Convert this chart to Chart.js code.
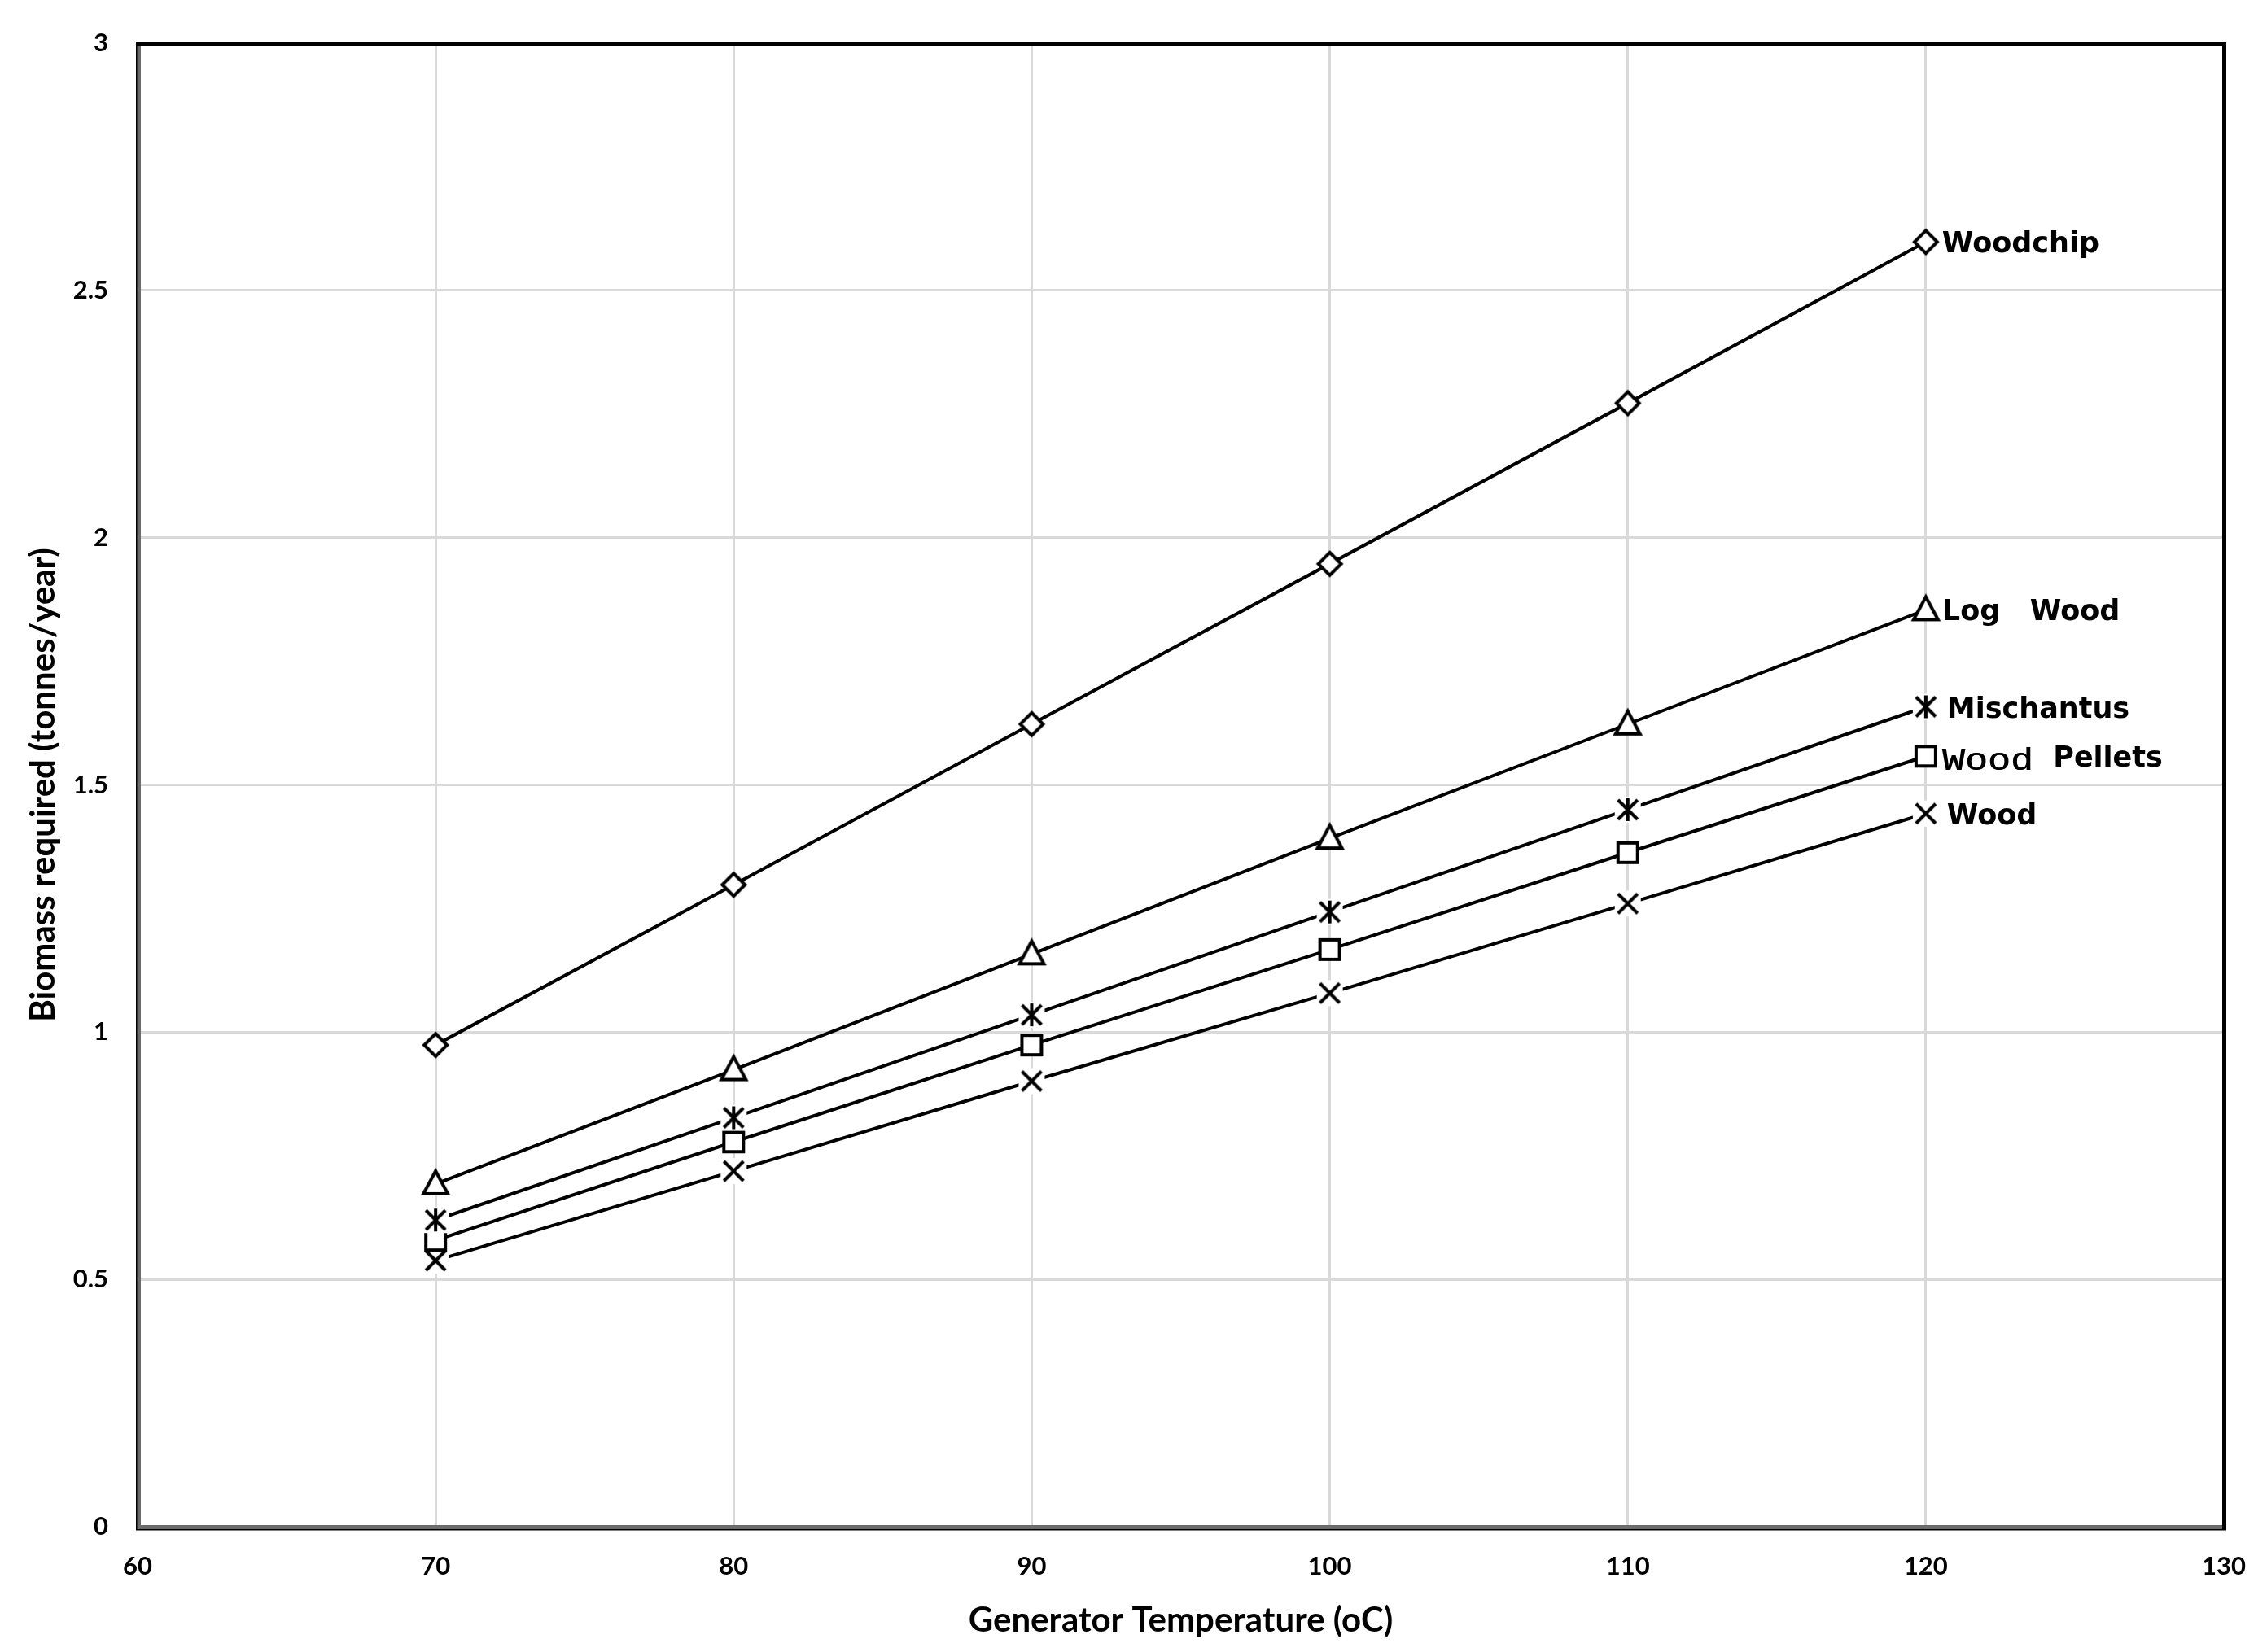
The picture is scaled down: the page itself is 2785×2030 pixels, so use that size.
<!DOCTYPE html>
<html>
<head>
<meta charset="utf-8">
<script src="https://cdn.jsdelivr.net/npm/chart.js@4.4.1/dist/chart.umd.min.js"></script>
<style>
  html, body { margin: 0; padding: 0; background: #fff; }
  #wrap { width: 2785px; height: 2030px; position: relative; }
</style>
</head>
<body>
<div id="wrap"><canvas id="c" width="2785" height="2030"></canvas></div>
<script>
// ---- data ----
const temperatures = [70, 80, 90, 100, 110, 120];
const woodchip    = [0.974, 1.298, 1.623, 1.947, 2.272, 2.598];
const logWood     = [0.693, 0.924, 1.158, 1.392, 1.623, 1.854];
const mischantus  = [0.620, 0.827, 1.035, 1.243, 1.450, 1.658];
const woodPellets = [0.579, 0.778, 0.974, 1.167, 1.363, 1.558];
const wood        = [0.538, 0.719, 0.901, 1.079, 1.260, 1.442];
const seriesNames = ['Woodchip', 'Log   Wood', 'Mischantus', 'Wood  Pellets', 'Wood'];
const xTickLabels = [60, 70, 80, 90, 100, 110, 120, 130];
const yTickLabels = [0, 0.5, 1, 1.5, 2, 2.5, 3];
const xTitle = 'Generator Temperature (oC)';
const yTitle = 'Biomass required (tonnes/year)';

// ---- marker images ----
function marker(kind) {
  const s = 48;
  const c = document.createElement('canvas');
  c.width = s; c.height = s;
  const g = c.getContext('2d');
  g.translate(s / 2, s / 2);
  g.lineWidth = 4;
  g.strokeStyle = '#000';
  g.fillStyle = '#fff';
  g.lineJoin = 'miter';
  if (kind === 'diamond') {
    const r = 14;
    g.beginPath(); g.moveTo(0, -r); g.lineTo(r, 0); g.lineTo(0, r); g.lineTo(-r, 0); g.closePath();
    g.fill(); g.stroke();
  } else if (kind === 'triangle') {
    g.beginPath(); g.moveTo(0, -16); g.lineTo(15, 12); g.lineTo(-15, 12); g.closePath();
    g.fill(); g.stroke();
  } else if (kind === 'square') {
    g.beginPath(); g.rect(-12, -12, 24, 24);
    g.fill(); g.stroke();
  } else if (kind === 'x' || kind === 'asterisk') {
    g.fillRect(-16, -16, 32, 32);
    const r = 12;
    g.beginPath();
    g.moveTo(-r, -r); g.lineTo(r, r);
    g.moveTo(r, -r); g.lineTo(-r, r);
    if (kind === 'asterisk') { g.moveTo(0, -14); g.lineTo(0, 14); }
    g.stroke();
  }
  return c;
}
const markerKinds = ['diamond', 'triangle', 'asterisk', 'square', 'x'];
const seriesValues = [woodchip, logWood, mischantus, woodPellets, wood];

const datasets = seriesValues.map((vals, i) => ({
  label: seriesNames[i],
  data: temperatures.map((t, j) => ({ x: t, y: vals[j] })),
  borderColor: '#000',
  borderWidth: 4,
  pointStyle: marker(markerKinds[i]),
  pointRadius: 14,
  pointHoverRadius: 14,
  fill: false,
  tension: 0
}));

// ---- plugins ----
const frame = {
  id: 'frame',
  afterDatasetsDraw(chart) {
    const { ctx, chartArea: a } = chart;
    ctx.save();
    ctx.fillStyle = '#6b6b6b';
    ctx.fillRect(a.left - 1, a.top - 2, 5, a.bottom - a.top + 4);
    ctx.fillRect(a.left - 1, a.bottom - 2, a.right - a.left + 3, 5);
    ctx.fillStyle = '#000';
    ctx.fillRect(a.left - 2, a.top - 2, 1.5, a.bottom - a.top + 6);
    ctx.fillRect(a.left - 2, a.bottom + 3, a.right - a.left + 5, 1.5);
    ctx.fillRect(a.left - 2, a.top - 2, a.right - a.left + 5, 5);
    ctx.fillRect(a.right - 2, a.top - 2, 5, a.bottom - a.top + 6);
    ctx.restore();
  }
};

const labelFont = 'bold 35px "DejaVu Sans"';
const endLabels = {
  id: 'endLabels',
  afterDraw(chart) {
    const { ctx } = chart;
    ctx.save();
    ctx.fillStyle = '#000';
    ctx.textBaseline = 'middle';
    ctx.textAlign = 'left';
    chart.data.datasets.forEach((ds, i) => {
      const meta = chart.getDatasetMeta(i);
      const pt = meta.data[meta.data.length - 1];
      let x = pt.x + 20;
      const y = pt.y + 4;
      const label = ds.label;
      if (label.startsWith('Wood  ')) {
        const first = 'Wood';
        ctx.font = '38px "Liberation Mono"';
        const w = ctx.measureText(first).width;
        const sx = 112 / w;
        ctx.save();
        ctx.translate(x, y + 3);
        ctx.scale(sx, 1);
        ctx.fillText(first, 0, 0);
        ctx.fillText(first, 0.6, 0);
        ctx.restore();
        x += 112;
        ctx.font = labelFont;
        ctx.fillText(label.slice(first.length), x, y);
      } else {
        ctx.font = labelFont;
        ctx.fillText(label, x + (label === 'Wood' || label === 'Mischantus' ? 6 : 0), y);
      }
    });
    ctx.restore();
  }
};

const tickFont = { family: 'Lato', weight: 'bold', size: 31 };
const titleFont = { family: 'Lato', weight: 'bold', size: 42 };

new Chart(document.getElementById('c'), {
  type: 'line',
  data: { datasets },
  options: {
    responsive: false,
    animation: false,
    devicePixelRatio: 1,
    layout: { padding: { top: 53, right: 53, left: 0, bottom: 0 } },
    plugins: { legend: { display: false }, tooltip: { enabled: false } },
    scales: {
      x: {
        type: 'linear',
        min: xTickLabels[0],
        max: xTickLabels[xTickLabels.length - 1],
        afterBuildTicks(scale) { scale.ticks = xTickLabels.map(v => ({ value: v })); },
        ticks: { font: tickFont, color: '#000', padding: 30, maxRotation: 0, callback: v => String(v) },
        grid: { color: '#d9d9d9', lineWidth: 3, drawTicks: false },
        border: { display: false },
        title: { display: true, text: xTitle, font: titleFont, color: '#000', padding: { top: 0, bottom: 13 } },
        afterFit(scale) { scale.height = 154; scale.paddingLeft = 0; scale.paddingRight = 0; }
      },
      y: {
        type: 'linear',
        min: yTickLabels[0],
        max: yTickLabels[yTickLabels.length - 1],
        afterBuildTicks(scale) { scale.ticks = yTickLabels.map(v => ({ value: v })); },
        ticks: { font: tickFont, color: '#000', padding: 36, callback: v => String(v) },
        grid: { color: '#d9d9d9', lineWidth: 3, drawTicks: false },
        border: { display: false },
        title: { display: true, text: yTitle, font: titleFont, color: '#000', padding: { top: 28, bottom: 0 } },
        afterFit(scale) { scale.width = 169; scale.paddingTop = 0; scale.paddingBottom = 0; }
      }
    }
  },
  plugins: [frame, endLabels]
});
</script>
</body>
</html>
